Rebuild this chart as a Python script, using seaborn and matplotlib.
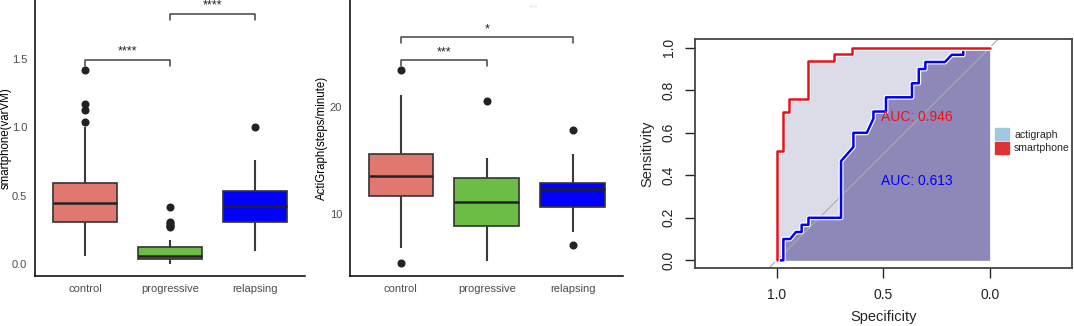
import seaborn as sns
import pandas as pd
import numpy as np
import matplotlib.pyplot as plt
from matplotlib.patches import Patch

groups = ['control', 'progressive', 'relapsing']
box_colors = ['#E07870', '#6CBD45', '#0000FF']

# smartphone varVM per patient
phone_control = [0.064, 0.14, 0.19, 0.23, 0.26, 0.29, 0.307, 0.34, 0.37, 0.39, 0.41, 0.43, 0.45,
                 0.47, 0.49, 0.51, 0.54, 0.57, 0.593, 0.75, 1.0, 1.04, 1.13, 1.17, 1.42]
phone_progressive = [0.005, 0.012, 0.018, 0.023, 0.028, 0.032, 0.035, 0.038, 0.041, 0.044, 0.047,
                     0.050, 0.053, 0.056, 0.058, 0.061, 0.063, 0.067, 0.072, 0.078, 0.085, 0.093,
                     0.102, 0.113, 0.124, 0.150, 0.176, 0.27, 0.28, 0.29, 0.30, 0.31, 0.42]
phone_relapsing = [0.098, 0.17, 0.22, 0.26, 0.29, 0.31, 0.33, 0.36, 0.38, 0.40, 0.424, 0.44, 0.46,
                   0.48, 0.51, 0.534, 0.57, 0.62, 0.68, 0.761, 1.0]

# ActiGraph steps/minute
acti_control = [5.38, 6.78, 8.6, 9.9, 10.8, 11.3, 11.72, 12.1, 12.5, 12.8, 13.1, 13.3, 13.53,
                13.8, 14.1, 14.4, 14.8, 15.2, 15.63, 16.3, 17.0, 17.9, 19.2, 21.2, 23.5]
acti_progressive = [5.59, 6.5, 7.2, 7.8, 8.4, 8.875, 9.3, 9.8, 10.3, 10.7, 11.09, 11.5, 12.0,
                    12.5, 12.9, 13.34, 13.8, 14.3, 14.8, 15.28, 20.6]
acti_relapsing = [7.06, 8.34, 9.2, 9.8, 10.3, 10.63, 11.0, 11.4, 11.8, 12.1, 12.34, 12.45, 12.55,
                  12.65, 12.78, 12.9, 13.4, 14.0, 14.8, 15.6, 17.9]

# significance brackets: (group a, group b, bracket height, label)
phone_sig = [(0, 1, 1.493, '****'), (1, 2, 1.83, '****')]
acti_sig = [(0, 1, 24.44, '***'), (0, 2, 26.6, '*')]

# ROC curves (specificity, sensitivity)
smart_spec = [1.0, 1.0, 0.969, 0.969, 0.943, 0.943, 0.851, 0.851, 0.732, 0.732, 0.645, 0.645, 0.0]
smart_sens = [0.0, 0.515, 0.515, 0.697, 0.697, 0.758, 0.758, 0.939, 0.939, 0.970, 0.970, 1.0, 1.0]
acti_spec = [1.0, 0.969, 0.969, 0.937, 0.910, 0.883, 0.883, 0.851, 0.851, 0.698, 0.698, 0.640,
             0.640, 0.577, 0.546, 0.546, 0.487, 0.487, 0.365, 0.365, 0.333, 0.333, 0.302, 0.302,
             0.210, 0.178, 0.124, 0.124, 0.0]
acti_sens = [0.0, 0.0, 0.100, 0.100, 0.133, 0.133, 0.167, 0.167, 0.200, 0.200, 0.467, 0.533,
             0.600, 0.600, 0.667, 0.700, 0.700, 0.767, 0.767, 0.833, 0.833, 0.900, 0.900, 0.933,
             0.933, 0.967, 0.967, 1.0, 1.0]
auc_smart = 0.946
auc_acti = 0.613


def long_df(values):
    rows = []
    for g, vals in zip(groups, values):
        rows += [(g, v) for v in vals]
    return pd.DataFrame(rows, columns=['group', 'value'])


def draw_box(ax, df, ylabel, ylim, yticks, sig, step, label_x):
    sns.boxplot(data=df, x='group', y='value', hue='group', palette=box_colors, order=groups,
                saturation=1, width=0.75, linecolor='#333333', linewidth=1.2, legend=False,
                showcaps=False, ax=ax,
                whiskerprops=dict(color='#3a3a3a', linewidth=1.5),
                medianprops=dict(color='#222222', linewidth=1.8),
                flierprops=dict(marker='o', markerfacecolor='#222222', markeredgecolor='#222222',
                                markersize=4.8))
    ax.set_xlim(-0.59, 2.585)
    ax.set_ylim(*ylim)
    ax.set_yticks(yticks)
    ax.set_xlabel('')
    ax.set_ylabel(ylabel, fontsize=8.3, color='black')
    ax.yaxis.set_label_coords(label_x, 0.5)
    sns.despine(ax=ax)
    for s in ['left', 'bottom']:
        ax.spines[s].set_linewidth(1.1)
        ax.spines[s].set_color('black')
    ax.tick_params(axis='both', length=3.2, width=0.9, labelsize=8, labelcolor='#4D4D4D', pad=2.5)
    for a, b, h, lab in sig:
        ax.plot([a, a, b, b], [h - step, h, h, h - step], color='#444444', lw=1.1)
        ax.text((a + b) / 2, h + step * 1.3, lab, ha='center', va='center', fontsize=9,
                color='#222222')


sns.set_style('white')
plt.rcParams['font.family'] = ['Liberation Sans', 'DejaVu Sans']

fig = plt.figure(figsize=(10.74, 3.26), dpi=100)
ax1 = fig.add_axes([0.0325, 0.1534, 0.2515, 0.8466])
ax2 = fig.add_axes([0.3259, 0.1543, 0.2542, 0.8457])
ax3 = fig.add_axes([0.6471, 0.1770, 0.3507, 0.7025])

draw_box(ax1, long_df([phone_control, phone_progressive, phone_relapsing]), 'smartphone(varVM)',
         (-0.085, 1.93), [0.0, 0.5, 1.0, 1.5], phone_sig, 0.045, -0.085)
draw_box(ax2, long_df([acti_control, acti_progressive, acti_relapsing]), 'ActiGraph(steps/minute)',
         (4.22, 30.06), [10, 20], acti_sig, 0.55, -0.08)
ax2.text(1.55, 29.3, '***', ha='center', va='center', fontsize=6, color='#dddddd')

# ROC panel
ax3.fill_between(smart_spec, 0, smart_sens, color='#DCDCE8', lw=0)
ax3.fill_between(acti_spec, 0, acti_sens, color='#8E88B8', lw=0)
ax3.axline((1, 0), (0, 1), color='#aaaaaa', lw=0.8)
for sp, se, col in [(acti_spec, acti_sens, '#0000FF'), (smart_spec, smart_sens, '#E8121B')]:
    sns.lineplot(x=sp, y=se, sort=False, estimator=None, color='white', lw=3.5, ax=ax3)
    sns.lineplot(x=sp, y=se, sort=False, estimator=None, color=col, lw=1.8, ax=ax3)
ax3.text(0.343, 0.676, f'AUC: {auc_smart:.3f}', color='#E8121B', ha='center', va='center', fontsize=10)
ax3.text(0.343, 0.375, f'AUC: {auc_acti:.3f}', color='#0000FF', ha='center', va='center', fontsize=10)
ax3.set_xlim(1.384, -0.385)
ax3.set_ylim(-0.0376, 1.04)
ax3.set_xticks([1.0, 0.5, 0.0])
ax3.set_xticklabels(['1.0', '0.5', '0.0'])
ax3.set_yticks([0.0, 0.2, 0.4, 0.6, 0.8, 1.0])
ax3.set_yticklabels(['0.0', '0.2', '0.4', '0.6', '0.8', '1.0'], rotation=90, va='center')
ax3.tick_params(axis='both', length=7, width=1, labelsize=10, labelcolor='#222222', pad=7,
                left=True, bottom=True)
for s in ax3.spines.values():
    s.set_color('#444444')
    s.set_linewidth(1.3)
ax3.set_xlabel('Specificity', fontsize=10.5)
ax3.set_ylabel('Sensitivity', fontsize=10.5)
ax3.xaxis.set_label_coords(0.5, -0.18)
ax3.yaxis.set_label_coords(-0.108, 0.5)
handles = [Patch(facecolor='#9ECAE1', edgecolor='#9ECAE1'), Patch(facecolor='#DD3333', edgecolor='#DD3333')]
ax3.legend(handles, ['actigraph', 'smartphone'], loc='center left', bbox_to_anchor=(0.797, 0.556),
           frameon=False, fontsize=7.6, handlelength=1.3, handleheight=1.4, handletextpad=0.5,
           labelspacing=0.15, borderpad=0, borderaxespad=0)

fig.savefig('out.png', dpi=100)
